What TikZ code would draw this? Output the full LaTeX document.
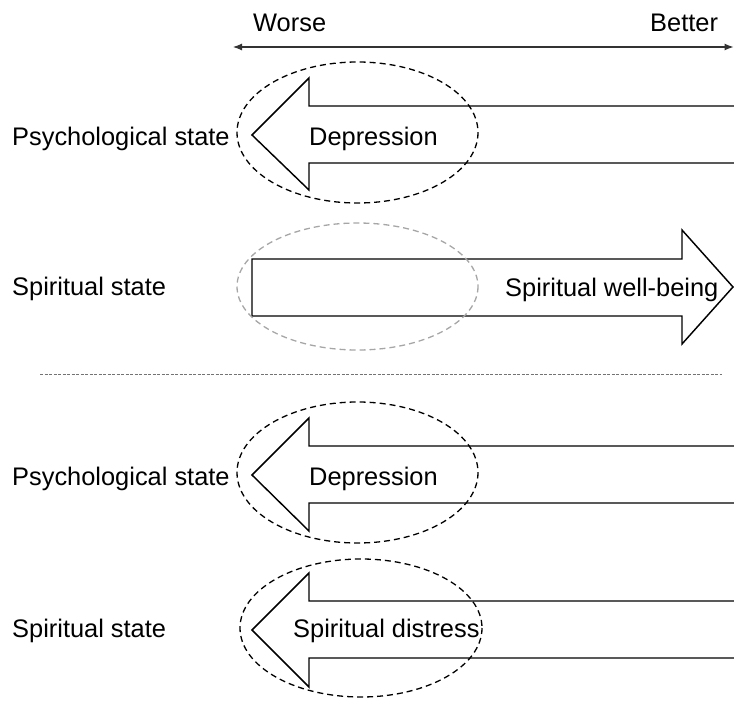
\documentclass[tikz,border=0pt]{standalone}
\usepackage{fontspec}
\setmainfont{Liberation Sans}
\usetikzlibrary{arrows.meta}
\begin{document}
\begin{tikzpicture}[x=1pt,y=-1pt,
  lbl/.style={anchor=base west,inner sep=0pt,font=\fontsize{25.4}{30}\selectfont},
  bigarrow/.style={draw=black,line width=1.45pt,line join=miter},
  ring/.style={draw=black,line width=1.3pt,dash pattern=on 6pt off 4pt},
  grayring/.style={draw=black!35,line width=1.3pt,dash pattern=on 6pt off 4pt},
  sep/.style={draw=black!55,line width=0.8pt,dash pattern=on 3pt off 1.5pt}]
\useasboundingbox (0,0) rectangle (734,701);
\begin{scope}
\clip (0,0) rectangle (734,701);
% scale arrow
\coordinate (wl) at (233,47);
\coordinate (wr) at (733.5,47);
\draw[line width=1.1pt,black!80,{Latex[length=9pt,width=7pt]}-{Latex[length=9pt,width=7pt]}] (wl) -- (wr);
\node[lbl] (worse) at (253,32) {Worse};
\node[lbl] (better) at (650,32) {Better};

% row 1: depression (left arrow)
\draw[bigarrow] (740,106) -- (309,106) -- (309,78) -- (252,135) -- (309,190) -- (309,163) -- (740,163);
\draw[ring] (357.5,132.5) ellipse [x radius=120.5, y radius=70.5];
\node[lbl] (dep1) at (309,145) {Depression};
\node[lbl] (psy1) at (12,145) {Psychological state};

% row 2: spiritual well-being (right arrow)
\draw[bigarrow] (252,259) -- (682,259) -- (682,230) -- (733,287) -- (682,344) -- (682,316) -- (252,316) -- cycle;
\draw[grayring] (357.5,286.5) ellipse [x radius=120.5, y radius=63.5];
\node[lbl] (swb) at (505,296) {Spiritual well-being};
\node[lbl] (spi1) at (12,295) {Spiritual state};

% separator
\coordinate (sl) at (40,374);
\coordinate (sr) at (722,374);
\draw[sep] (sl) -- (sr);

% row 3: depression
\draw[bigarrow] (740,446) -- (309,446) -- (309,418) -- (252,475) -- (309,531) -- (309,503) -- (740,503);
\draw[ring] (357.5,472.5) ellipse [x radius=120.5, y radius=70.5];
\node[lbl] (dep2) at (309,485) {Depression};
\node[lbl] (psy2) at (12,485) {Psychological state};

% row 4: spiritual distress
\draw[bigarrow] (740,601) -- (309,601) -- (309,573) -- (252,630) -- (309,687) -- (309,658) -- (740,658);
\draw[ring] (361,628) ellipse [x radius=121, y radius=69];
\node[lbl] (sd) at (293,637) {Spiritual distress};
\node[lbl] (spi2) at (12,637) {Spiritual state};
\end{scope}
\end{tikzpicture}
\end{document}
